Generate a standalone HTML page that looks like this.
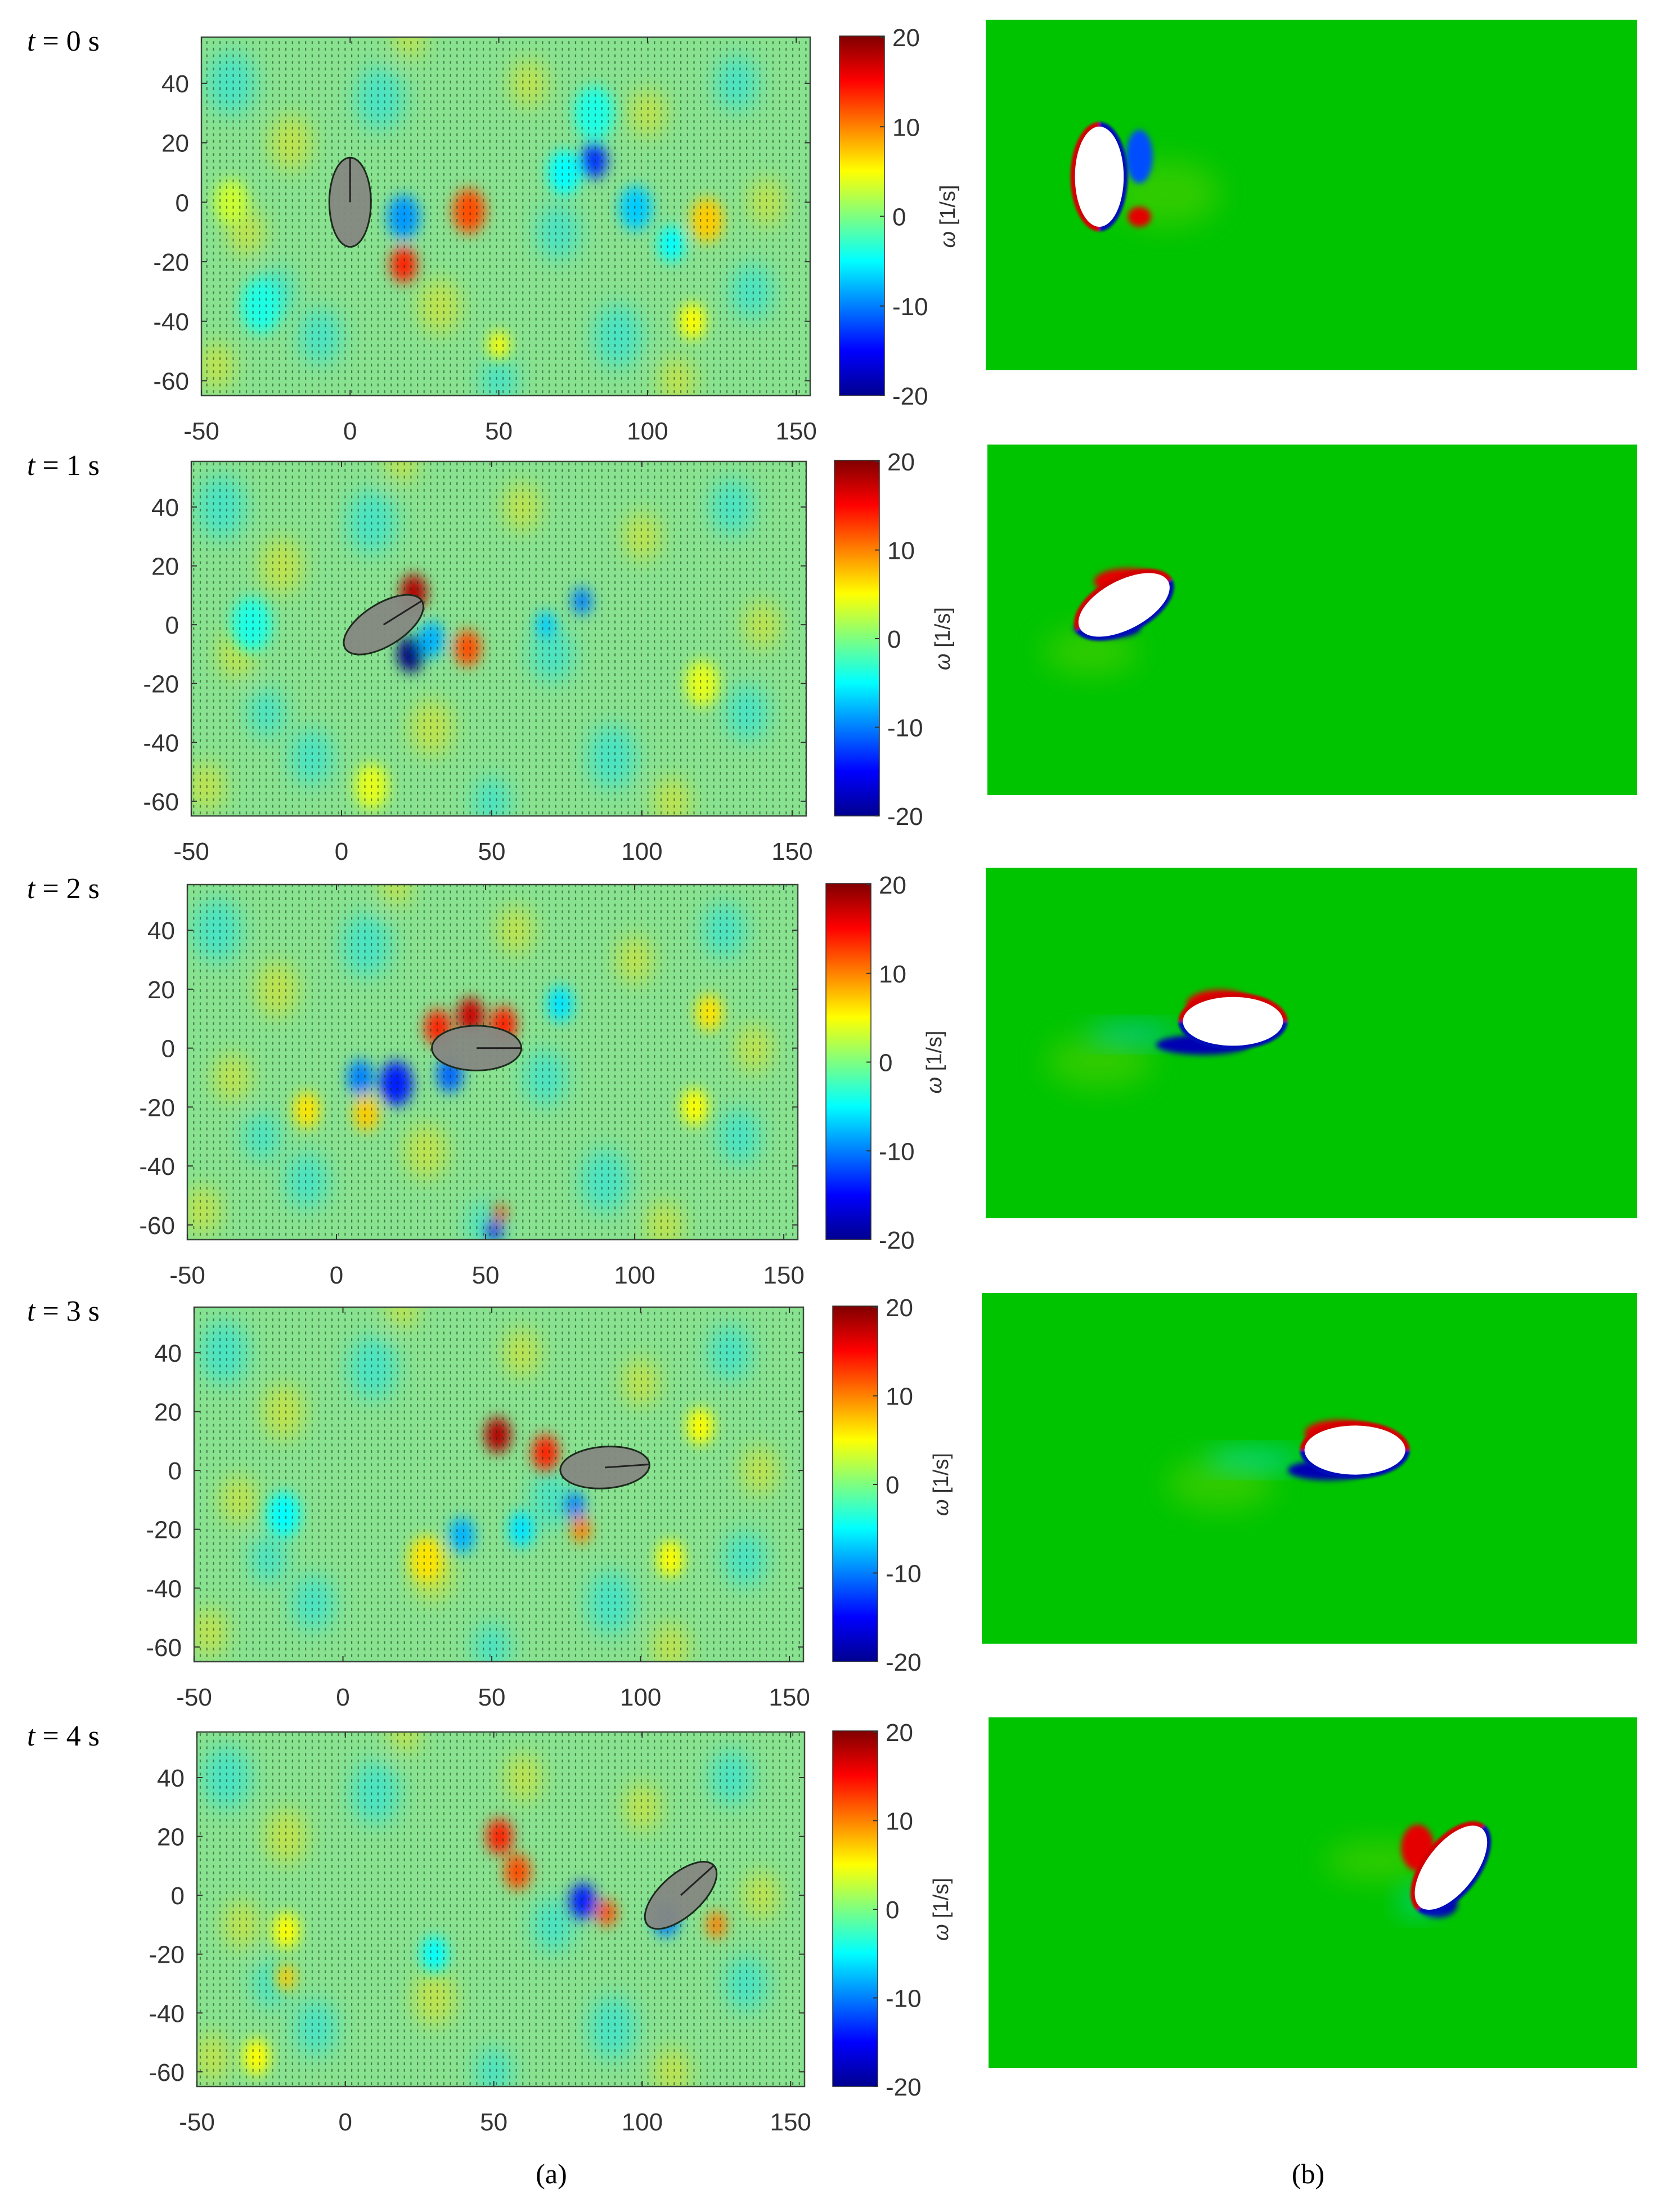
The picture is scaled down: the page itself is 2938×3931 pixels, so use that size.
<!DOCTYPE html>
<html><head><meta charset="utf-8"><title>Vorticity snapshots</title>
<style>
html,body{margin:0;padding:0;background:#fff;}
svg{display:block;}
.tick{font-family:"Liberation Sans",sans-serif;font-size:44px;fill:#333;}
.tl{font-family:"Liberation Serif",serif;font-size:52px;fill:#000;}
</style></head>
<body>
<svg id="fig" width="2938" height="3931" viewBox="0 0 2938 3931" xmlns="http://www.w3.org/2000/svg">
<defs>
<filter id="blur" x="-50%" y="-50%" width="200%" height="200%"><feGaussianBlur stdDeviation="12"/></filter>
<filter id="blurBg" x="-50%" y="-50%" width="200%" height="200%"><feGaussianBlur stdDeviation="18"/></filter>
<filter id="blurS" x="-50%" y="-50%" width="200%" height="200%"><feGaussianBlur stdDeviation="5"/></filter>
<filter id="blurL" x="-50%" y="-50%" width="200%" height="200%"><feGaussianBlur stdDeviation="25"/></filter>
<filter id="blurR" x="-20%" y="-20%" width="140%" height="140%"><feGaussianBlur stdDeviation="2"/></filter>
<pattern id="quiver" width="11.7" height="11.7" patternUnits="userSpaceOnUse">
<line x1="5" y1="3" x2="5" y2="8" stroke="#102a10" stroke-width="2.2" opacity="0.55"/>
</pattern>
<linearGradient id="jetGrad" x1="0" y1="1" x2="0" y2="0">
<stop offset="0" stop-color="#00008f"/><stop offset="0.125" stop-color="#0000ff"/>
<stop offset="0.375" stop-color="#00ffff"/><stop offset="0.5" stop-color="#7fff7f"/>
<stop offset="0.625" stop-color="#ffff00"/><stop offset="0.875" stop-color="#ff0000"/>
<stop offset="1" stop-color="#800000"/>
</linearGradient>
</defs>
</svg>
<script>
// ---- data ----
const timeLabels = ["0","1","2","3","4"];
const xTicks = [-50,0,50,100,150];
const yTicks = [40,20,0,-20,-40,-60];
const cbTicks = [20,10,0,-10,-20];
const bodyX = [0, 14, 47, 88, 113];
const bodyY = [0, 0, 0, 1, 0];
const bodyAng = [90, 32, 0, 4, 42];
const bodyA = [15, 15, 15, 15, 15];
const bodyB = [7, 7, 7.5, 7, 7];
// background turbulence (low amplitude) [x, y, omega, radius]
const bgBlobs = [[-40,40,-3,8],[-20,20,3,7],[-35,-10,3,6],[-10,-45,-3,7],[10,35,-3,8],[30,-35,3,7],[60,40,3,6],[70,-10,-3,7],[90,-45,-3,8],[100,30,3,6],[130,40,-3,7],[140,0,3,6],[135,-30,-3,7],[-45,-55,3,6],[50,-60,-3,6],[110,-60,3,6],[20,55,3,5],[-25,-30,-3,6]];
const blobs0 = [[18,-5,-9,5],[40,-3,12,5],[18,-21,14,4],[82,14,-13,4],[72,10,-5,5],[96,-2,-7,5],[108,-14,-5,4],[120,-6,7,5],[-30,-35,-4,6],[50,-48,5,3],[82,30,-4,6],[115,-40,5,4],[-40,0,3,5]];
const blobs1 = [[24,11,18,4],[23,-10,-20,4],[30,-5,-8,4],[42,-8,12,4],[68,0,-7,3],[80,8,-10,3],[120,-20,4,5],[-30,0,-4,6],[10,-55,4,5]];
const blobs2 = [[34,7,14,4],[45,11,17,4],[56,8,14,4],[8,-10,-10,4],[20,-12,-14,5],[38,-9,-11,4],[-10,-21,6,4],[55,-56,12,2],[53,-62,-16,2],[75,15,-6,4],[125,12,6,4],[120,-20,5,4],[10,-22,7,4]];
const blobs3 = [[52,12,18,4],[68,6,14,4],[78,-12,-10,3],[80,-20,10,3],[40,-22,-8,4],[60,-20,-6,4],[28,-30,6,5],[-20,-15,-5,5],[120,15,5,4],[110,-30,5,4]];
const blobs4 = [[52,20,14,4],[58,8,12,4],[80,-2,-14,4],[88,-6,12,3],[108,-8,-10,4],[125,-10,10,3],[-20,-12,5,4],[-20,-28,7,3],[30,-20,-5,4],[-30,-55,5,4]];
const blobRows = [blobs0, blobs1, blobs2, blobs3, blobs4];
// simulation body: x, y, angle (mm, deg)
const simX = [-3, 4, 37, 74, 102];
const simY = [0, -1, 1, 0, 2];
const simAng = [90, 28, 0, 0, 52];
// simulation wake structures relative to body: [dx, dy, omega, rx, ry]
const sim0 = [[20,-5,4,16,10],[12,6,-12,4,8],[12,-12,16,3.5,3]];
const sim1 = [[-10,-14,3,14,7],[1,7,16,10,4],[-5,-7,-18,10,3]];
const sim2 = [[-40,-12,3,16,8],[-30,-4,-7,14,3],[-4,5,16,10,4.5],[-9,-7,-18,14,3]];
const sim3 = [[-40,-10,3,16,8],[-30,-3,-6,15,3],[-5,5,16,10,4],[-8,-6,-18,12,3]];
const sim4 = [[-22,2,3,16,6],[-10,6,16,5,7],[-4,-11,-18,6,4],[-10,-10,-6,5,4]];
const simRows = [sim0, sim1, sim2, sim3, sim4];

// ---- layout (pixels) ----
const plotL = [358,340,333,345,350], plotR = [1440,1433,1418,1428,1430];
const plotT = [66,820,1572,2323,3078], plotB = [703,1450,2203,2953,3708];
const cbL = [1492,1483,1468,1480,1480], cbW = 80;
const rpL = [1752,1755,1752,1745,1757], rpR = 2910;
const rpT = [35,790,1542,2298,3052], rpH = 623;
const XMIN=-50, XMAX=154.7, YMAX=55.5, YMIN=-65;
const svg = document.getElementById('fig');
const NS = "http://www.w3.org/2000/svg";
function mk(tag, attrs, parent){const e=document.createElementNS(NS,tag);for(const k in attrs)e.setAttribute(k,attrs[k]);(parent||svg).appendChild(e);return e;}
function jet(v){
  let t=(v+20)/40; t=Math.max(0,Math.min(1,t));
  const f=x=>Math.round(255*Math.max(0,Math.min(1,1.5-Math.abs(4*t-x))));
  return `rgb(${f(3)},${f(2)},${f(1)})`;
}
function simCol(v){
  if(Math.abs(v)<5) return v>0?'#50d000':'#00c8a0';
  return jet(v);
}
for(let r=0;r<5;r++){
  const L=plotL[r],R=plotR[r],T=plotT[r],B=plotB[r];
  const sx=x=>L+(x-XMIN)/(XMAX-XMIN)*(R-L);
  const sy=y=>T+(YMAX-y)/(YMAX-YMIN)*(B-T);
  const kx=(R-L)/(XMAX-XMIN);
  const g=mk('g',{});
  
  
  const lab=mk('text',{x:48,y:T+24,class:'tl'},g);
  
  
  lab.innerHTML='<tspan font-style="italic">t</tspan> = '+timeLabels[r]+' s';
  const cid='clip'+r;
  const cp=mk('clipPath',{id:cid},g); mk('rect',{x:L,y:T,width:R-L,height:B-T},cp);
  const field=mk('g',{'clip-path':`url(#${cid})`},g);
  
  
  mk('rect',{x:L,y:T,width:R-L,height:B-T,fill:'#88e290'},field);
  const bg=mk('g',{filter:'url(#blurBg)',opacity:0.45},field);
  bgBlobs.forEach(b=>{
    const c=mk('ellipse',{cx:sx(b[0]),cy:sy(b[1]),rx:b[3]*kx,ry:b[3]*kx*1.3,fill:jet(b[2]*2)},bg);
    
    
  });
  const bl=mk('g',{filter:'url(#blur)'},field);
  blobRows[r].forEach(b=>{
    const c=mk('ellipse',{cx:sx(b[0]),cy:sy(b[1]),rx:b[3]*kx*1.1,ry:b[3]*kx*1.5,fill:jet(b[2])},bl);
    
    
  });
  const q=mk('rect',{x:L,y:T,width:R-L,height:B-T,fill:'url(#quiver)'},field);
  
  
  const bx=sx(bodyX[r]),by=sy(bodyY[r]);
  const body=mk('ellipse',{cx:bx,cy:by,rx:bodyA[r]*kx,ry:bodyB[r]*kx,fill:'#858882','fill-opacity':0.95,stroke:'#1d2b1d','stroke-width':3,transform:`rotate(${-bodyAng[r]} ${bx} ${by})`},field);
  
  
  const a=bodyAng[r]*Math.PI/180;
  mk('line',{x1:bx,y1:by,x2:bx+Math.cos(a)*bodyA[r]*kx,y2:by-Math.sin(a)*bodyA[r]*kx,stroke:'#222',"stroke-width":3},field);
  const fr=mk('rect',{x:L,y:T,width:R-L,height:B-T,fill:'none',stroke:'#3a4a3a','stroke-width':2.5},g);
  
  
  xTicks.forEach(v=>{
    const X=sx(v);
    mk('line',{x1:X,y1:B,x2:X,y2:B-10,stroke:'#333','stroke-width':2},g);
    mk('line',{x1:X,y1:T,x2:X,y2:T+10,stroke:'#333','stroke-width':2},g);
    const t=mk('text',{x:X,y:B+78,'text-anchor':'middle',class:'tick'},g);
    
    
    t.textContent=v;
  });
  yTicks.forEach(v=>{
    const Y=sy(v);
    mk('line',{x1:L,y1:Y,x2:L+10,y2:Y,stroke:'#333','stroke-width':2},g);
    mk('line',{x1:R,y1:Y,x2:R-10,y2:Y,stroke:'#333','stroke-width':2},g);
    const t=mk('text',{x:L-22,y:Y+16,'text-anchor':'end',class:'tick'},g);
    
    
    t.textContent=v;
  });
  const cb=mk('rect',{x:cbL[r],y:T-2,width:cbW,height:B-T+2,fill:'url(#jetGrad)',stroke:'#333','stroke-width':1.5},g);
  
  
  cbTicks.forEach(v=>{
    const Y=T+(20-v)/40*(B-T);
    mk('line',{x1:cbL[r]+cbW,y1:Y,x2:cbL[r]+cbW-8,y2:Y,stroke:'#333','stroke-width':2},g);
    const t=mk('text',{x:cbL[r]+cbW+14,y:Y+16,class:'tick'},g);
    
    
    t.textContent=v;
  });
  const cx=cbL[r]+cbW+125, cy=(T+B)/2;
  const ct=mk('text',{x:cx,y:cy,'text-anchor':'middle',class:'tick',transform:`rotate(-90 ${cx} ${cy})`,style:'font-size:38px'},g);
  
  
  ct.innerHTML='<tspan font-style="italic">ω</tspan> [1/s]';

  // simulation panel
  const RL=rpL[r],RT=rpT[r];
  const k=(rpR-RL)/195;
  const px=x=>RL+(x+37)*k, py=y=>RT+279-y*k;
  const sg=mk('g',{});
  
  
  const sc='sclip'+r;
  const scp=mk('clipPath',{id:sc},sg); mk('rect',{x:RL,y:RT,width:rpR-RL,height:rpH},scp);
  const sf=mk('g',{'clip-path':`url(#${sc})`},sg);
  mk('rect',{x:RL,y:RT,width:rpR-RL,height:rpH,fill:'#00c400'},sf);
  const ex=px(simX[r]), ey=py(simY[r]);
  const tr=`rotate(${-simAng[r]} ${ex} ${ey})`;
  const A=15*k, Bb=7.3*k;
  simRows[r].forEach(w=>{
    const weak=Math.abs(w[2])<10;
    const e=mk('ellipse',{cx:ex+w[0]*k,cy:ey-w[1]*k,rx:w[3]*k,ry:w[4]*k,fill:simCol(w[2]),filter:weak?'url(#blurL)':'url(#blurS)',opacity:weak?0.6:1},sf);
    
    
  });
  const bodyG=mk('g',{transform:tr},sf);
  const rg=mk('g',{filter:'url(#blurR)'},bodyG);
  const ra=A+8, rb=Bb+8;
  mk('path',{d:`M ${ex-ra} ${ey} A ${ra} ${rb} 0 0 1 ${ex+ra} ${ey} Z`,fill:'#d40000'},rg);
  mk('path',{d:`M ${ex-ra} ${ey} A ${ra} ${rb-1} 0 0 0 ${ex+ra} ${ey} Z`,fill:'#0010b8'},rg);
  const se=mk('ellipse',{cx:ex,cy:ey,rx:A,ry:Bb,fill:'#fff'},bodyG);
  
  
}
const la=mk('text',{x:980,y:3880,'text-anchor':'middle',style:'font-family:"Liberation Serif",serif;font-size:50px'});


la.textContent='(a)';
const lb=mk('text',{x:2325,y:3880,'text-anchor':'middle',style:'font-family:"Liberation Serif",serif;font-size:50px'});


lb.textContent='(b)';
</script>
</body></html>
